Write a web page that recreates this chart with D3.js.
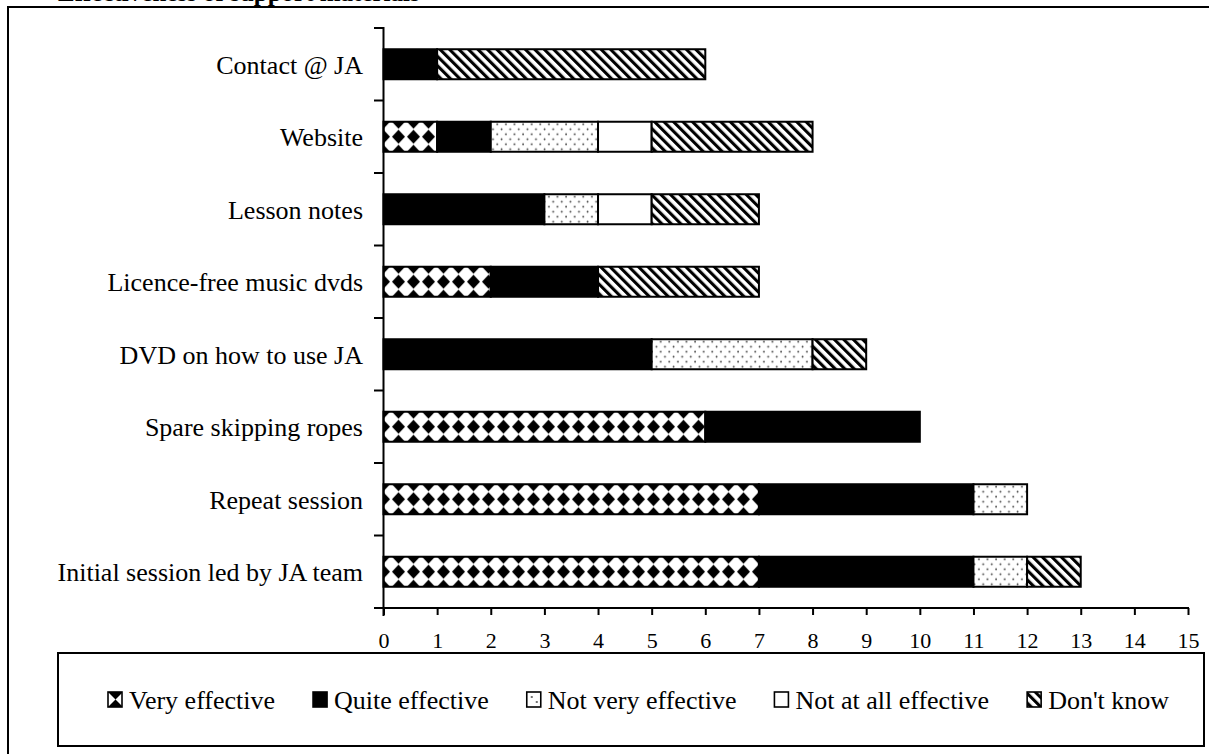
<!DOCTYPE html>
<html>
<head>
<meta charset="utf-8">
<script src="https://cdn.jsdelivr.net/npm/d3@7"></script>
<style>
  html, body { margin: 0; padding: 0; background: #fff; overflow: hidden; }
  svg { display: block; }
</style>
</head>
<body>
<svg id="chart" width="1209" height="754" font-family="'Liberation Serif', 'Times New Roman', serif"></svg>
<script>
// ---- data ----
const title = "Effectiveness of support materials";
const categories = [
  "Contact @ JA",
  "Website",
  "Lesson notes",
  "Licence-free music dvds",
  "DVD on how to use JA",
  "Spare skipping ropes",
  "Repeat session",
  "Initial session led by JA team"
];
const seriesNames = ["Very effective", "Quite effective", "Not very effective", "Not at all effective", "Don't know"];
const veryEffective     = [0, 1, 0, 2, 0, 6, 7, 7];
const quiteEffective    = [1, 1, 3, 2, 5, 4, 4, 4];
const notVeryEffective  = [0, 2, 1, 0, 3, 0, 1, 1];
const notAtAllEffective = [0, 1, 1, 0, 0, 0, 0, 0];
const dontKnow          = [5, 3, 2, 3, 1, 0, 0, 1];
const xTicks = [0, 1, 2, 3, 4, 5, 6, 7, 8, 9, 10, 11, 12, 13, 14, 15];

const seriesKeys = ["very", "quite", "notVery", "notAtAll", "dk"];
const seriesValues = [veryEffective, quiteEffective, notVeryEffective, notAtAllEffective, dontKnow];
const rows = categories.map((c, i) => {
  const r = { cat: c };
  seriesKeys.forEach((k, j) => r[k] = seriesValues[j][i]);
  return r;
});

const FONT = "'Liberation Serif', 'Times New Roman', serif";

// ---- layout ----
const svg = d3.select("#chart");
const plotLeft = 383.5, plotRight = 1188, plotTop = 28, plotBottom = 608;
const x = d3.scaleLinear().domain([0, 15]).range([plotLeft, plotRight]);
const yBand = d3.scaleBand().domain(categories).range([plotTop, plotBottom]).paddingInner(0.586).paddingOuter(0.293);
const yStep = d3.scaleBand().domain(categories).range([plotTop, plotBottom]).padding(0);

const defs = svg.append("defs");

function diamondPattern(id, px, py) {
  const p = defs.append("pattern").attr("id", id).attr("patternUnits", "userSpaceOnUse")
    .attr("x", px).attr("y", py).attr("width", 15).attr("height", 15);
  p.append("rect").attr("width", 15).attr("height", 15).attr("fill", "#fff");
  p.append("path").attr("d", "M7.5,0.6 L14.0,7.5 L7.5,14.4 L1.0,7.5 Z").attr("fill", "#000");
}
function dotPattern(id, px, py) {
  const p = defs.append("pattern").attr("id", id).attr("patternUnits", "userSpaceOnUse")
    .attr("x", px).attr("y", py).attr("width", 8.6).attr("height", 10);
  p.append("rect").attr("width", 8.6).attr("height", 10).attr("fill", "#fff");
  p.append("circle").attr("cx", 2).attr("cy", 2.5).attr("r", 0.9).attr("fill", "#444");
  p.append("circle").attr("cx", 6.3).attr("cy", 7.5).attr("r", 0.9).attr("fill", "#444");
}
function stripePattern(id) {
  const p = defs.append("pattern").attr("id", id).attr("patternUnits", "userSpaceOnUse")
    .attr("width", 6.7).attr("height", 6.7).attr("patternTransform", "rotate(-45)");
  p.append("rect").attr("width", 6.7).attr("height", 6.7).attr("fill", "#fff");
  p.append("rect").attr("width", 3.1).attr("height", 6.7).attr("fill", "#000");
}
stripePattern("stripes");

categories.forEach((c, i) => {
  diamondPattern("diam" + i, x(0) - 7.5, yBand(c) - 7.5);
  dotPattern("dots" + i, x(0), yBand(c));
});

function fillFor(key, i) {
  if (key === "very") return "url(#diam" + i + ")";
  if (key === "quite") return "#000";
  if (key === "notVery") return "url(#dots" + i + ")";
  if (key === "notAtAll") return "#fff";
  return "url(#stripes)";
}

// outer frame
svg.append("rect").attr("x", 8).attr("y", 7).attr("width", 1300).attr("height", 1000)
  .attr("fill", "none").attr("stroke", "#000").attr("stroke-width", 2);

// title (mostly cut off at the top, as in the reference)
svg.append("text").attr("x", 58).attr("y", 1).attr("font-size", 25).attr("font-weight", "bold")
  .attr("font-family", FONT).attr("fill", "#000").text(title);

// ---- bars ----
const stack = d3.stack().keys(seriesKeys);
const stacked = stack(rows);
const barG = svg.append("g");
stacked.forEach(layer => {
  const key = layer.key;
  barG.selectAll(null)
    .data(layer.map((d, i) => ({ d, i })).filter(o => o.d[1] - o.d[0] > 0))
    .enter().append("rect")
    .attr("x", o => x(o.d[0]))
    .attr("y", o => yBand(categories[o.i]))
    .attr("width", o => x(o.d[1]) - x(o.d[0]))
    .attr("height", yBand.bandwidth())
    .attr("fill", o => fillFor(key, o.i))
    .attr("stroke", "#000").attr("stroke-width", 2);
});

// ---- axes ----
const xAxis = d3.axisBottom(x).tickValues(xTicks).tickSize(7).tickPadding(17).tickFormat(d3.format("d"));
const gx = svg.append("g").attr("transform", `translate(0,${plotBottom})`).call(xAxis)
  .attr("font-family", FONT);
gx.select(".domain").remove();
gx.selectAll(".tick line").attr("stroke", "#000").attr("stroke-width", 2);
gx.selectAll(".tick text").attr("font-size", 22).attr("font-family", FONT).attr("fill", "#000");
svg.append("line").attr("x1", 374).attr("x2", plotRight + 1).attr("y1", plotBottom).attr("y2", plotBottom)
  .attr("stroke", "#000").attr("stroke-width", 2);

// y axis line + ticks at band boundaries
svg.append("line").attr("x1", plotLeft).attr("x2", plotLeft).attr("y1", plotTop - 1).attr("y2", plotBottom + 8)
  .attr("stroke", "#000").attr("stroke-width", 2);
const boundaries = categories.map(c => yStep(c)).concat([plotBottom]);
svg.selectAll(null).data(boundaries).enter().append("line")
  .attr("x1", 374).attr("x2", plotLeft).attr("y1", d => d).attr("y2", d => d)
  .attr("stroke", "#000").attr("stroke-width", 2);

// category labels
svg.selectAll(null).data(categories).enter().append("text")
  .attr("x", 363).attr("y", c => yBand(c) + yBand.bandwidth() / 2)
  .attr("dy", "0.36em").attr("text-anchor", "end").attr("font-size", 26)
  .attr("font-family", FONT).attr("fill", "#000")
  .text(c => c);

// ---- legend ----
const legBox = { x: 58, y: 653, w: 1146, h: 93 };
svg.append("rect").attr("x", legBox.x).attr("y", legBox.y).attr("width", legBox.w).attr("height", legBox.h)
  .attr("fill", "#fff").attr("stroke", "#000").attr("stroke-width", 2);

// legend-specific patterns
(function () {
  const p = defs.append("pattern").attr("id", "legDiam").attr("patternUnits", "objectBoundingBox")
    .attr("width", 1).attr("height", 1);
  p.append("rect").attr("width", 15).attr("height", 15).attr("fill", "#000");
  p.append("path").attr("d", "M0,0 L7.5,7.5 L0,15 Z").attr("fill", "#fff");
  p.append("path").attr("d", "M15,0 L7.5,7.5 L15,15 Z").attr("fill", "#fff");
  const q = defs.append("pattern").attr("id", "legDots").attr("patternUnits", "objectBoundingBox")
    .attr("width", 1).attr("height", 1);
  q.append("rect").attr("width", 15).attr("height", 15).attr("fill", "#fff");
  q.append("circle").attr("cx", 5).attr("cy", 5).attr("r", 1).attr("fill", "#444");
  q.append("circle").attr("cx", 10).attr("cy", 10).attr("r", 1).attr("fill", "#444");
})();
const legFills = ["url(#legDiam)", "#000", "url(#legDots)", "#fff", "url(#stripes)"];

const legG = svg.append("g");
let lx = 108;
const swW = 14, swH = 15, legBase = 709, gap = 38;
seriesNames.forEach((name, i) => {
  legG.append("rect").attr("x", lx).attr("y", legBase - 17).attr("width", swW).attr("height", swH)
    .attr("fill", legFills[i]).attr("stroke", "#000").attr("stroke-width", 1.6);
  const t = legG.append("text").attr("x", lx + swW + 7).attr("y", legBase).attr("font-size", 26)
    .attr("font-family", FONT).attr("fill", "#000").text(name);
  lx += swW + 7 + t.node().getComputedTextLength() + gap;
});
</script>
</body>
</html>
